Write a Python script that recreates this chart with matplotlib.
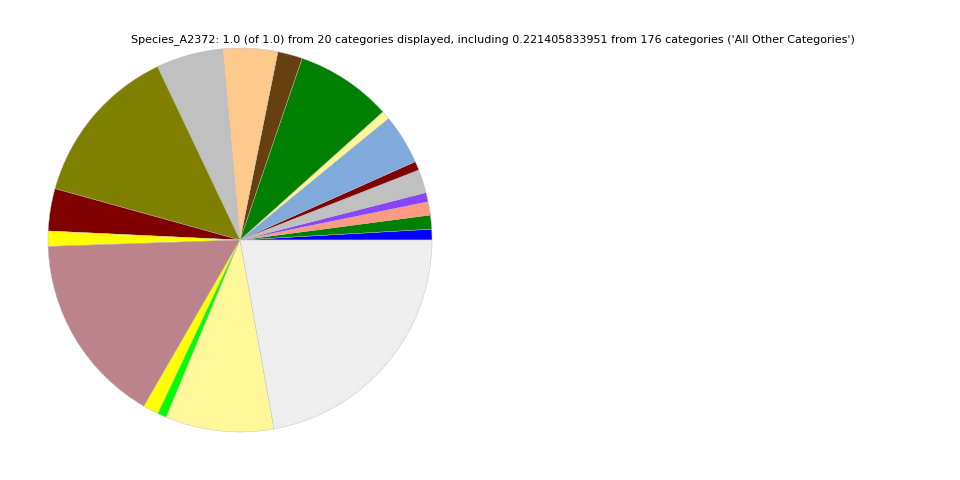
import matplotlib
matplotlib.use("Agg")
import matplotlib.pyplot as plt

# slice fractions, counterclockwise from 3 o'clock
categories = [f"Category_{i + 1}" for i in range(19)] + ["All Other Categories"]
fractions = [
    0.0090, 0.0118, 0.0111, 0.0078, 0.0197, 0.0075, 0.0422, 0.0072,
    0.0811, 0.0208, 0.0461, 0.0561, 0.1361, 0.0356, 0.0128, 0.1611,
    0.0131, 0.0075, 0.0911, 0.221405833951,
]
colors = [
    "#0000ff", "#008000", "#ff9980", "#8844ff", "#c0c0c0", "#800000",
    "#80aadc", "#fff899", "#008000", "#66400e", "#ffc98c", "#c0c0c0",
    "#808000", "#800000", "#ffff00", "#bc838c", "#ffff00", "#00ff00",
    "#fff799", "#eeeeee",
]
title = ("Species_A2372: 1.0 (of 1.0) from 20 categories displayed, including "
         "0.221405833951 from 176 categories ('All Other Categories')")


def plot_pie():
    fig = plt.figure(figsize=(9.6, 4.8), dpi=100)
    ax = fig.add_axes([48 / 960, 48 / 480, 384 / 960, 384 / 480])
    ax.pie(fractions, colors=colors, startangle=0, counterclock=True,
           wedgeprops=dict(edgecolor="#bbbbbb", linewidth=0.3))
    ax.set_xlim(-1, 1)
    ax.set_ylim(-1, 1)
    ax.set_aspect("equal")
    fig.text(493 / 960, 1 - 40 / 480, title, ha="center", va="center", fontsize=8)
    fig.savefig("out.png", dpi=100)


if __name__ == "__main__":
    plot_pie()
